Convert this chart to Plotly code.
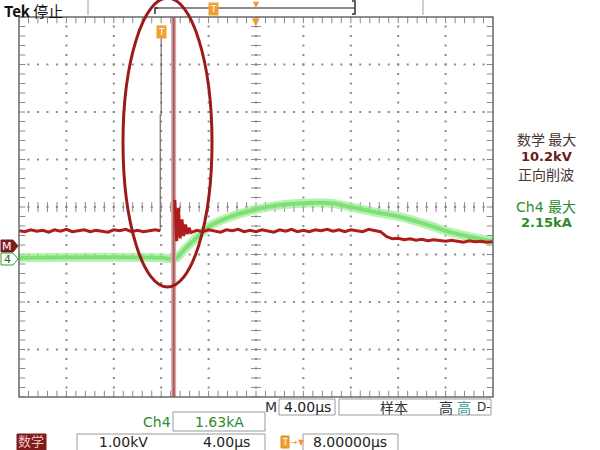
import plotly.graph_objects as go

# ---------------- data (time in µs, amplitude in divisions) ----------------
red_pre_t = [-12.0, -11.5, -11.0, -10.5, -10.0, -9.5, -9.0, -8.5, -8.0, -7.5, -7.0, -6.5,
             -6.0, -5.5, -5.0, -4.5, -4.0, -3.5, -3.0, -2.5, -2.0, -1.5, -1.0, -0.5, -0.08]
red_pre_v = [-0.50, -0.52, -0.48, -0.51, -0.49, -0.53, -0.48, -0.51, -0.47, -0.52, -0.50, -0.48,
             -0.52, -0.49, -0.51, -0.53, -0.48, -0.50, -0.47, -0.52, -0.49, -0.52, -0.50, -0.48, -0.50]

red_post_t = [1.15, 1.3, 1.45, 1.6, 1.75, 1.9, 2.05, 2.2, 2.35, 2.5,
              3.0, 3.5, 4.0, 4.5, 5.0, 5.5, 6.0, 6.5, 7.0, 7.5, 8.0, 8.5, 9.0, 9.5,
              10.0, 10.5, 11.0, 11.5, 12.0, 12.5, 13.0, 13.5, 14.0, 14.5, 15.0, 15.5,
              16.0, 16.5, 17.0, 17.5, 18.0, 18.5, 19.0, 19.5, 20.0, 20.5, 21.0, 21.5,
              22.0, 22.5, 23.0, 23.5, 24.0, 24.5, 25.0, 25.5, 26.0, 26.5, 27.0, 27.5, 28.0]
red_post_v = [0.15, -0.72, -0.02, -0.66, -0.26, -0.61, -0.37, -0.57, -0.44, -0.54,
              -0.49, -0.52, -0.48, -0.51, -0.53, -0.48, -0.50, -0.47, -0.52, -0.49, -0.52, -0.48, -0.50, -0.53,
              -0.48, -0.51, -0.47, -0.52, -0.49, -0.52, -0.48, -0.50, -0.47, -0.51, -0.48, -0.52,
              -0.48, -0.50, -0.52, -0.47, -0.50, -0.52, -0.62, -0.67, -0.66, -0.69, -0.67, -0.70,
              -0.68, -0.71, -0.69, -0.71, -0.72, -0.70, -0.72, -0.74, -0.71, -0.73, -0.72, -0.74, -0.73]

edge_t = [-0.08, -0.08, 0.0, 0.0]
edge_v = [-0.50, 1.94, 1.94, 3.72]

spike_t = [1.05, 1.05]
spike_v = [4.6, -4.6]

green_t = [-12.0, -6.0, 0.0, 0.8, 1.3, 2.0, 2.9, 4.1, 5.8, 7.5, 10.0, 12.2, 14.3,
           16.0, 18.1, 20.2, 22.3, 24.4, 26.1, 28.0]
green_v = [-1.07, -1.06, -1.07, -1.09, -1.07, -0.88, -0.67, -0.40, -0.21, -0.08, 0.04, 0.08, 0.08,
           0.00, -0.11, -0.21, -0.36, -0.53, -0.63, -0.72]

T_MIN, T_MAX = -12.0, 28.0
V_MIN, V_MAX = -4.0, 4.0

# ---------------- helpers (pixel -> paper) ----------------
L, R, T, B = 19, 493, 17, 397
def px(x):
    return (x - L) / (R - L)
def py(y):
    return (B - y) / (B - T)

FONT = "DejaVu Sans, Noto Sans CJK SC"
CJK = "Noto Sans CJK SC, DejaVu Sans"

fig = go.Figure()

# ---------------- graticule ----------------
gx, gy = [], []
for k in range(1, 10):
    t = T_MIN + 4 * k
    for j in range(41):
        gx.append(t); gy.append(V_MIN + 0.2 * j)
for k in range(1, 8):
    v = V_MIN + k
    for j in range(51):
        gx.append(T_MIN + 0.8 * j); gy.append(v)
fig.add_trace(go.Scatter(x=gx, y=gy, mode="markers",
                         marker=dict(symbol="square", size=2, color="#8a8a8a"),
                         hoverinfo="skip", showlegend=False))

hx = [T_MIN + 0.8 * j for j in range(51)]
vy = [V_MIN + 0.2 * j for j in range(41)]
tick = dict(color="#8a8a8a", width=1)
for yv, sz in [(0.0, 7), (V_MAX, 9), (V_MIN, 9)]:
    fig.add_trace(go.Scatter(x=hx, y=[yv] * len(hx), mode="markers",
                             marker=dict(symbol="line-ns", size=sz, line=tick),
                             hoverinfo="skip", showlegend=False))
for xv, sz in [(8.0, 7), (T_MIN, 9), (T_MAX, 9)]:
    fig.add_trace(go.Scatter(x=[xv] * len(vy), y=vy, mode="markers",
                             marker=dict(symbol="line-ew", size=sz, line=tick),
                             hoverinfo="skip", showlegend=False))

# ---------------- traces ----------------
fig.add_trace(go.Scatter(x=green_t, y=green_v, mode="lines", line_shape="spline",
                         line=dict(color="rgba(160,238,150,0.75)", width=9),
                         hoverinfo="skip", showlegend=False))
fig.add_trace(go.Scatter(x=green_t, y=green_v, mode="lines", line_shape="spline",
                         line=dict(color="#7fe07a", width=4),
                         hoverinfo="skip", showlegend=False))

fig.add_trace(go.Scatter(x=spike_t, y=spike_v, mode="lines",
                         line=dict(color="#d8a8a8", width=5),
                         hoverinfo="skip", showlegend=False))
fig.add_trace(go.Scatter(x=spike_t, y=spike_v, mode="lines",
                         line=dict(color="#a85a5a", width=2),
                         hoverinfo="skip", showlegend=False))

fig.add_trace(go.Scatter(x=edge_t, y=edge_v, mode="lines",
                         line=dict(color="#7a6a6a", width=1.2),
                         hoverinfo="skip", showlegend=False))
fig.add_trace(go.Scatter(x=red_pre_t, y=red_pre_v, mode="lines",
                         line=dict(color="#b01c1c", width=3),
                         hoverinfo="skip", showlegend=False))
fig.add_trace(go.Scatter(x=red_post_t, y=red_post_v, mode="lines",
                         line=dict(color="#b01c1c", width=3),
                         hoverinfo="skip", showlegend=False))

# ---------------- shapes ----------------
shapes = []
shapes.append(dict(type="rect", xref="paper", yref="paper", x0=0, x1=1, y0=0, y1=1,
                   line=dict(color="#6a6a6a", width=1.5)))
shapes.append(dict(type="line", xref="paper", yref="paper", x0=px(88), x1=px(88), y0=py(0), y1=py(15),
                   line=dict(color="#a0a0a0", width=1)))
shapes.append(dict(type="line", xref="paper", yref="paper", x0=px(423), x1=px(423), y0=py(0), y1=py(15),
                   line=dict(color="#a0a0a0", width=1)))
shapes.append(dict(type="line", xref="paper", yref="paper", x0=px(155), x1=px(355), y0=py(8), y1=py(8),
                   line=dict(color="#8a8a8a", width=2)))
shapes.append(dict(type="path", xref="paper", yref="paper",
                   path=f"M {px(158)},{py(8)} L {px(155)},{py(8)} L {px(155)},{py(14)}",
                   line=dict(color="#333333", width=1.5)))
shapes.append(dict(type="path", xref="paper", yref="paper",
                   path=f"M {px(352)},{py(1)} L {px(355)},{py(1)} L {px(355)},{py(14)} L {px(352)},{py(14)}",
                   line=dict(color="#333333", width=1.5)))
shapes.append(dict(type="path", xref="paper", yref="paper",
                   path=f"M {px(1)},{py(240)} L {px(13)},{py(240)} L {px(18)},{py(246)} L {px(13)},{py(252)} L {px(1)},{py(252)} Z",
                   fillcolor="#7a1d1d", line=dict(color="#7a1d1d", width=1)))
shapes.append(dict(type="path", xref="paper", yref="paper",
                   path=f"M {px(1)},{py(253)} L {px(13)},{py(253)} L {px(18)},{py(259)} L {px(13)},{py(265)} L {px(1)},{py(265)} Z",
                   fillcolor="white", line=dict(color="#3a9a3a", width=1)))
shapes.append(dict(type="circle", xref="paper", yref="paper",
                   x0=px(123), x1=px(212), y0=py(287), y1=py(-2),
                   line=dict(color="#9c1a1a", width=3)))
def box(x0, x1, y0, y1, fill="white", color="#9a9a9a"):
    shapes.append(dict(type="rect", xref="paper", yref="paper",
                       x0=px(x0), x1=px(x1), y0=py(y1), y1=py(y0),
                       fillcolor=fill, line=dict(color=color, width=1)))
box(279, 335, 399, 415)
box(339, 491, 399, 415)
box(173, 265, 412, 431)
box(77, 265, 434, 452)
box(303, 398, 434, 452)
box(17, 46, 434, 451, fill="#7e1c1c", color="#7e1c1c")
box(281, 289, 436, 448, fill="#f0a030", color="#e08a20")
fig.update_layout(shapes=shapes)

# ---------------- annotations ----------------
ann = []
def txt(x, y, s, size=14, color="#222222", family=FONT, xanchor="center", bold=False, **kw):
    if bold:
        s = f"<b>{s}</b>"
    d = dict(x=px(x), y=py(y), xref="paper", yref="paper", text=s, showarrow=False,
             xanchor=xanchor, yanchor="middle", font=dict(size=size, color=color, family=family))
    d.update(kw)
    ann.append(d)

txt(2, 11, "<b>Tek</b> 停止", size=15, color="#111111", family=CJK, xanchor="left")
txt(213, 9, "T", size=9, color="white", bgcolor="#f0a030", borderpad=1)
txt(161.5, 32, "T", size=9, color="white", bgcolor="#f0a030", borderpad=1)
txt(256, 5, "▼", size=8, color="#f09a30")
txt(256, 21, "▼", size=10, color="#f09a30")
txt(7, 246, "M", size=11, color="white")
txt(7, 259, "4", size=11, color="#2a6a2a")
txt(546, 139, "数学 最大", size=14, color="#4a3535", family=CJK)
txt(546, 156, "10.2kV", size=13, color="#6a1a1a", bold=True)
txt(546, 174, "正向削波", size=14, color="#4a3535", family=CJK)
txt(546, 207, "Ch4 最大", size=14, color="#2e8b2e", family=FONT)
txt(546, 222, "2.15kA", size=13, color="#2e8b2e", bold=True)
txt(271, 407, "M", size=14, color="#333333")
txt(307, 407, "4.00µs", size=14, color="#222222")
txt(394, 407, "样本", size=14, color="#333333", family=CJK)
txt(446, 407, "高", size=14, color="#333333", family=CJK)
txt(464, 407, "高", size=14, color="#3a9a9a", family=CJK)
txt(484, 407, "D-", size=12, color="#333333")
txt(157, 422, "Ch4", size=14, color="#2e8b2e")
txt(219, 422, "1.63kA", size=14, color="#2e8b2e")
txt(31, 441, "数学", size=13, color="#f2c8c8", family=CJK)
txt(123, 442, "1.00kV", size=14, color="#222222")
txt(226, 442, "4.00µs", size=14, color="#222222")
txt(285, 442, "T", size=8, color="white")
txt(294, 442, "→", size=9, color="#f09a30")
txt(301, 442, "▼", size=8, color="#f09a30")
txt(350, 442, "8.00000µs", size=14, color="#222222")

fig.update_layout(annotations=ann)

fig.update_layout(
    width=600, height=450,
    margin=dict(l=L, r=600 - R, t=T, b=450 - B, pad=0),
    paper_bgcolor="white", plot_bgcolor="white",
    showlegend=False, hovermode=False,
    xaxis=dict(range=[T_MIN, T_MAX], showgrid=False, zeroline=False, showticklabels=False,
               showline=False, ticks="", fixedrange=True),
    yaxis=dict(range=[V_MIN, V_MAX], showgrid=False, zeroline=False, showticklabels=False,
               showline=False, ticks="", fixedrange=True),
)

fig.write_html("out.html", config={"displayModeBar": False},
               post_script="document.body.style.margin='0';document.body.style.overflow='hidden';")
